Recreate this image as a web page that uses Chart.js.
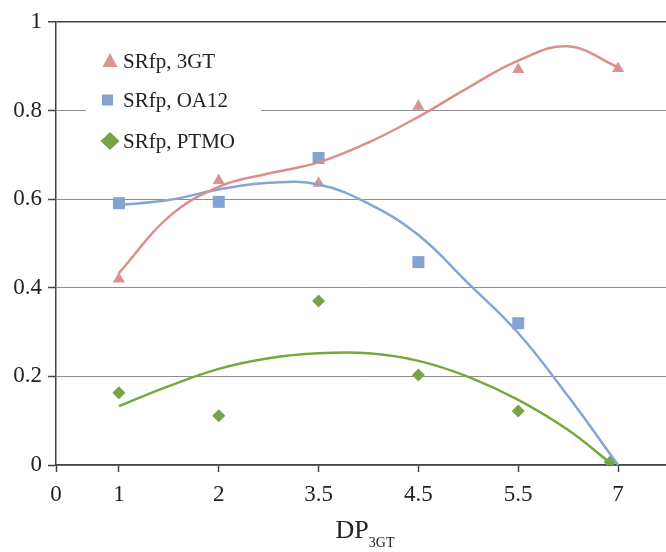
<!DOCTYPE html>
<html>
<head>
<meta charset="utf-8">
<script src="https://cdn.jsdelivr.net/npm/chart.js@4/dist/chart.umd.min.js"></script>
<style>
  html, body { margin: 0; padding: 0; background: #fff; }
  #wrap { width: 666px; height: 552px; }
</style>
</head>
<body>
<div id="wrap"><canvas id="srChart" width="666" height="552"></canvas></div>
<script>
// x axis: category slots 0..5 stand for DP 1, 2, 3.5, 4.5, 5.5, 7; the "0" sits at the origin
let xTickValues = [-0.63, 0, 1, 2, 3, 4, 5];
let xTickLabels = ['0', '1', '2', '3.5', '4.5', '5.5', '7'];

let pointX = [0, 1, 2, 3, 4, 5];
let sr3GT  = [0.420, 0.642, 0.636, 0.810, 0.893, 0.895];
let srOA12 = [0.591, 0.594, 0.693, 0.458, 0.320, null];
let srPTMO = [0.163, 0.111, 0.370, 0.203, 0.122, 0.007];
let ptmoX  = [0, 1, 2, 3, 4, 4.92];

// trend lines
let trendX     = [0, 0.5, 1, 1.5, 2, 2.5, 3, 3.5, 4, 4.5, 5];
let trend3GT   = [0.433, 0.560, 0.628, 0.658, 0.683, 0.728, 0.786, 0.852, 0.913, 0.945, 0.898];
let trendOA12  = [0.587, 0.598, 0.622, 0.637, 0.633, 0.590, 0.519, 0.410, 0.298, 0.155, 0.0];
let trendPTMOx = [0, 0.5, 1, 1.5, 2, 2.5, 3, 3.5, 4, 4.5, 4.92];
let trendPTMO  = [0.133, 0.178, 0.217, 0.241, 0.252, 0.252, 0.235, 0.199, 0.147, 0.079, 0.005];

function pts(xs, ys) {
    let out = [];
    for (let i = 0; i < xs.length; i++) {
        if (ys[i] !== null) out.push({ x: xs[i], y: ys[i] });
    }
    return out;
}

const FONT = '"Liberation Serif", "Times New Roman", serif';
const RED = '#D99594', BLUE = '#85A3D0', GREEN = '#76A446';

// legend drawn inside the plot, like the original
const boxLegend = {
    id: 'boxLegend',
    beforeDatasetsDraw(chart) {
        let ctx = chart.ctx;
        ctx.save();
        ctx.fillStyle = '#fff';
        ctx.fillRect(86, 36, 175, 128);
        ctx.restore();
    },
    afterDraw(chart) {
        let ctx = chart.ctx;
        let rows = [
            { label: chart.data.datasets[0].label, y: 61, shape: 'tri', color: RED },
            { label: chart.data.datasets[1].label, y: 100, shape: 'sq', color: BLUE },
            { label: chart.data.datasets[2].label, y: 141, shape: 'dia', color: GREEN }
        ];
        ctx.save();
        rows.forEach(r => {
            ctx.fillStyle = r.color;
            ctx.beginPath();
            if (r.shape === 'tri') {
                ctx.moveTo(110, r.y - 8); ctx.lineTo(117.5, r.y + 6); ctx.lineTo(102.5, r.y + 6);
            } else if (r.shape === 'sq') {
                ctx.rect(102, r.y - 5.5, 11, 11);
            } else {
                ctx.moveTo(110, r.y - 9); ctx.lineTo(119.5, r.y); ctx.lineTo(110, r.y + 9); ctx.lineTo(100.5, r.y);
            }
            ctx.closePath();
            ctx.fill();
            ctx.fillStyle = '#222';
            ctx.font = '21px ' + FONT;
            ctx.textBaseline = 'middle';
            ctx.textAlign = 'left';
            ctx.fillText(r.label, 123, r.y + 1);
        });
        // axis title DP with subscript 3GT
        let area = chart.chartArea;
        ctx.font = '26px ' + FONT;
        let w1 = ctx.measureText('DP').width;
        ctx.font = '14px ' + FONT;
        let w2 = ctx.measureText('3GT').width;
        let x0 = (area.left + area.right) / 2 - (w1 + w2) / 2 + 4;
        ctx.textBaseline = 'alphabetic';
        ctx.font = '26px ' + FONT;
        ctx.fillText('DP', x0, 538);
        ctx.font = '14px ' + FONT;
        ctx.fillText('3GT', x0 + w1, 547);
        ctx.restore();
    }
};

let ctx = document.getElementById('srChart').getContext('2d');
let srChart = new Chart(ctx, {
    type: 'scatter',
    data: {
        datasets: [
            { label: 'SRfp, 3GT', data: pts(pointX, sr3GT), pointStyle: 'triangle', pointRadius: 7,
              backgroundColor: RED, borderColor: RED, borderWidth: 0, order: 2 },
            { label: 'SRfp, OA12', data: pts(pointX, srOA12), pointStyle: 'rect', pointRadius: 8.5,
              backgroundColor: BLUE, borderColor: BLUE, borderWidth: 0, order: 2 },
            { label: 'SRfp, PTMO', data: pts(ptmoX, srPTMO), pointStyle: 'rectRot', pointRadius: 6.5,
              backgroundColor: GREEN, borderColor: GREEN, borderWidth: 0, order: 2 },
            { label: 'trend 3GT', data: pts(trendX, trend3GT), showLine: true, pointRadius: 0,
              borderColor: '#DB8F8D', borderWidth: 2.5, tension: 0.4, order: 1 },
            { label: 'trend OA12', data: pts(trendX, trendOA12), showLine: true, pointRadius: 0,
              borderColor: '#86A4D4', borderWidth: 2.5, tension: 0.4, order: 1 },
            { label: 'trend PTMO', data: pts(trendPTMOx, trendPTMO), showLine: true, pointRadius: 0,
              borderColor: '#78A83C', borderWidth: 2.5, tension: 0.4, order: 1 }
        ]
    },
    options: {
        responsive: false,
        animation: false,
        layout: { autoPadding: false, padding: { top: 22, right: 0, left: 0, bottom: 0 } },
        plugins: {
            legend: { display: false },
            tooltip: { enabled: false }
        },
        scales: {
            x: {
                type: 'linear',
                min: -0.63,
                max: 5.48,
                afterBuildTicks: axis => { axis.ticks = xTickValues.map(v => ({ value: v })); },
                afterFit: axis => { axis.height = 87; axis.paddingLeft = 0; axis.paddingRight = 0; },
                ticks: {
                    autoSkip: false,
                    maxRotation: 0,
                    padding: 9,
                    color: '#222',
                    font: { family: FONT, size: 23 },
                    callback: (v, i) => xTickLabels[i]
                },
                grid: { drawOnChartArea: false, drawTicks: true, tickLength: 7, tickColor: '#444', tickWidth: 1.5 },
                border: { color: '#444', width: 1.5 }
            },
            y: {
                min: 0,
                max: 1,
                afterFit: axis => { axis.width = 56; axis.paddingTop = 0; axis.paddingBottom = 0; },
                ticks: {
                    stepSize: 0.2,
                    padding: 6,
                    color: '#222',
                    font: { family: FONT, size: 23 },
                    callback: v => String(+v.toFixed(1))
                },
                grid: {
                    color: c => (c.tick && c.tick.value === 1) ? '#444' : '#8c8c8c',
                    lineWidth: c => (c.tick && c.tick.value === 1) ? 1.5 : 1,
                    tickLength: 8,
                    tickColor: '#444',
                    tickWidth: 1.5
                },
                border: { color: '#444', width: 1.5 }
            }
        }
    },
    plugins: [boxLegend]
});
</script>
</body>
</html>
